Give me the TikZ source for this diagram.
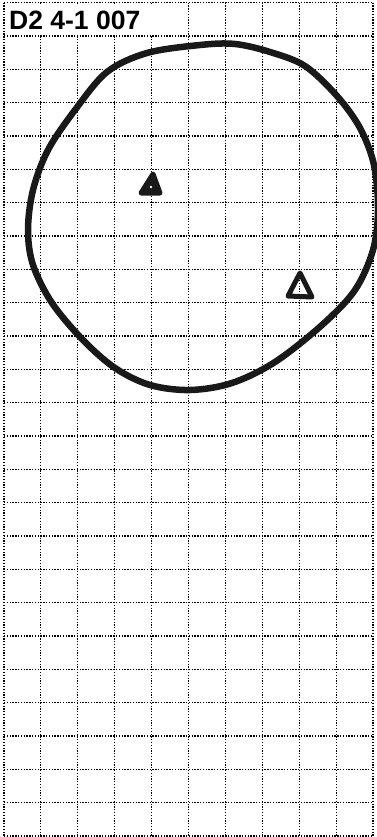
\documentclass[tikz,border=0pt]{standalone}
\usepackage{fontspec}
\setmainfont{Liberation Sans}
\begin{document}
\begin{tikzpicture}[x=1pt,y=-1pt,
  gridline/.style={black,line width=1.1pt,dash pattern=on 1.3pt off 1.5pt},
  stroke/.style={black!90,line width=6.5pt,line cap=round,line join=round},
  tri/.style={black!90,line width=5pt,line join=round,fill=black!90}]
\useasboundingbox (0,0) rectangle (376,837);
\fill[white] (0,0) rectangle (376,837);
% grid
\foreach \i in {0,...,10}{
  \draw[gridline] ({4+36.9*\i},2.7) -- ({4+36.9*\i},836);
}
\foreach \j in {0,...,25}{
  \draw[gridline] (4,{2.7+33.33*\j}) -- (373,{2.7+33.33*\j});
}
% label box
\fill[white] (5.5,4.3) rectangle (151.5,35.4);
\node[anchor=west,inner sep=0pt,font=\bfseries\fontsize{26.5}{26.5}\selectfont] (label) at (9,20.5) {D2 4-1 007};
% hand-drawn circle
\draw[stroke] plot[smooth cycle,tension=0.55] coordinates {
 (147,53) (200,45) (235,44) (270,52) (305,66) (337,96) (360,128)
 (374,165) (378,210) (373,250) (355,290) (322,325) (275,362)
 (232,383) (190,390) (150,385) (115,368) (83,340) (52,303)
 (33,265) (28,230) (33,190) (48,150) (75,110) (107,72)};
% triangles
\draw[tri] (153,174) -- (141,193) -- (160,193) -- cycle;
\fill[white] (151,187) circle (1.4);
\draw[stroke,line width=5pt] (300,273) -- (288,296) -- (312,297) -- cycle;
\end{tikzpicture}
\end{document}
